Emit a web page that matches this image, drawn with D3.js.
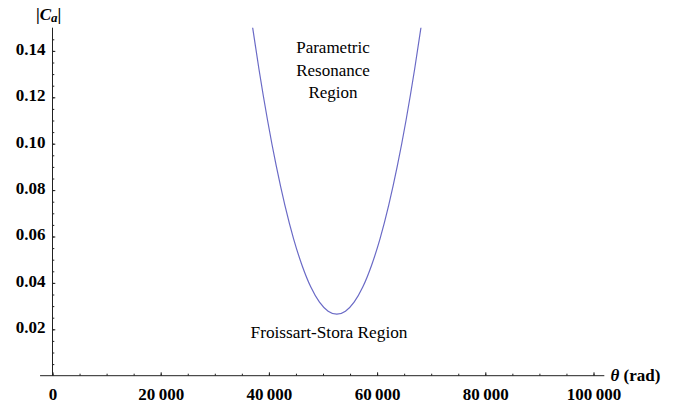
<!DOCTYPE html>
<html>
<head>
<meta charset="utf-8">
<script src="https://cdn.jsdelivr.net/npm/d3@7/dist/d3.min.js"></script>
<style>
  html, body { margin: 0; padding: 0; background: #fff; }
  svg { display: block; }
  svg text { font-family: "Liberation Serif", "Times New Roman", serif; fill: #000; }
</style>
</head>
<body>
<svg id="chart" width="688" height="409"></svg>
<script>
// Boundary between the Froissart-Stora and parametric resonance regions
const theta = [36750, 38150, 39750, 41350, 42950, 44550, 46150, 47750, 49350, 50950,
               52550,
               54150, 55750, 57350, 58950, 60550, 62150, 63750, 65350, 66950, 68350];
const ca    = [0.1538, 0.1323, 0.1101, 0.0905, 0.0735, 0.0591, 0.0474, 0.0382, 0.0317, 0.0278,
               0.0265,
               0.0278, 0.0317, 0.0382, 0.0474, 0.0591, 0.0735, 0.0905, 0.1101, 0.1323, 0.1538];

const xMajor = [0, 20000, 40000, 60000, 80000, 100000];
const xLabels = ["0", "20\u2009000", "40\u2009000", "60\u2009000", "80\u2009000", "100\u2009000"];
const yMajor = [0.02, 0.04, 0.06, 0.08, 0.10, 0.12, 0.14];
const yLabels = ["0.02", "0.04", "0.06", "0.08", "0.10", "0.12", "0.14"];
const xMinor = d3.range(0, 100001, 5000);
const yMinor = d3.range(1, 30).map(i => i * 0.005);

const serif = "'Liberation Serif', 'Times New Roman', serif";
const svg = d3.select("#chart");

const x = d3.scaleLinear().domain([0, 100000]).range([52.5, 593.5]);
const y = d3.scaleLinear().domain([0, 0.15]).range([375.7, 27.7]);

const axisColor = "#222";

// x axis: minor ticks, then major ticks with labels
svg.append("g").attr("transform", `translate(0,${y(0)})`)
  .call(d3.axisBottom(x).tickValues(xMinor).tickSize(-2).tickFormat(""));
const gxMajor = svg.append("g").attr("transform", `translate(0,${y(0)})`)
  .call(d3.axisBottom(x).tickValues(xMajor).tickSize(-3.4).tickPadding(12.2)
        .tickFormat((d, i) => xLabels[i]));

// y axis
svg.append("g").attr("transform", `translate(${x(0)},0)`)
  .call(d3.axisLeft(y).tickValues(yMinor).tickSize(-1.8).tickFormat(""));
const gyMajor = svg.append("g").attr("transform", `translate(${x(0)},0)`)
  .call(d3.axisLeft(y).tickValues(yMajor).tickSize(-2.8).tickPadding(7)
        .tickFormat((d, i) => yLabels[i]));
gyMajor.selectAll("text").attr("dy", "0.2em");

svg.selectAll(".domain").remove();
svg.selectAll(".tick line").attr("stroke", axisColor);
[gxMajor, gyMajor].forEach(g => {
  g.attr("font-family", serif);
  g.selectAll("text")
    .style("font-family", serif)
    .style("font-weight", "bold").style("font-size", "17px").attr("fill", "#000");
});

// axis lines
svg.append("line")
  .attr("x1", x(-2300)).attr("x2", x(102000))
  .attr("y1", y(0)).attr("y2", y(0))
  .attr("stroke", axisColor).attr("stroke-width", 1);
svg.append("line")
  .attr("x1", x(0)).attr("x2", x(0))
  .attr("y1", y(0)).attr("y2", y(0.15))
  .attr("stroke", axisColor).attr("stroke-width", 1);

// boundary curve, clipped to the plot range
svg.append("clipPath").attr("id", "plotClip")
  .append("rect")
  .attr("x", x(0)).attr("y", y(0.15))
  .attr("width", x(102000) - x(0)).attr("height", y(0) - y(0.15));

const line = d3.line()
  .x((d, i) => x(theta[i]))
  .y((d, i) => y(ca[i]))
  .curve(d3.curveNatural);

svg.append("path")
  .datum(theta)
  .attr("clip-path", "url(#plotClip)")
  .attr("d", line)
  .attr("fill", "none")
  .attr("stroke", "#6a6ac6")
  .attr("stroke-width", 1.2);

// region labels
const regionTop = svg.append("text")
  .attr("text-anchor", "middle")
  .style("font-family", serif)
  .style("font-size", "17px");
["Parametric", "Resonance", "Region"].forEach((t, i) => {
  regionTop.append("tspan").attr("x", 333).attr("y", 53.3 + i * 22.2).text(t);
});

svg.append("text")
  .attr("x", 329).attr("y", 338.3)
  .attr("text-anchor", "middle")
  .style("font-family", serif)
  .style("font-size", "17.3px")
  .text("Froissart-Stora Region");

// axis titles
const yTitle = svg.append("text")
  .attr("x", 36).attr("y", 19.5)
  .style("font-family", serif)
  .style("font-size", "17px").style("font-weight", "bold");
yTitle.append("tspan").text("|");
yTitle.append("tspan").style("font-style", "italic").text("C");
yTitle.append("tspan").style("font-style", "italic").style("font-size", "13px")
  .attr("dy", 2).text("a");
yTitle.append("tspan").attr("dy", -2).text("|");

const xTitle = svg.append("text")
  .attr("x", 610.5).attr("y", 381)
  .style("font-family", serif)
  .style("font-size", "17px").style("font-weight", "bold");
xTitle.append("tspan").style("font-style", "italic").text("\u03b8");
xTitle.append("tspan").text(" (rad)");
</script>
</body>
</html>
